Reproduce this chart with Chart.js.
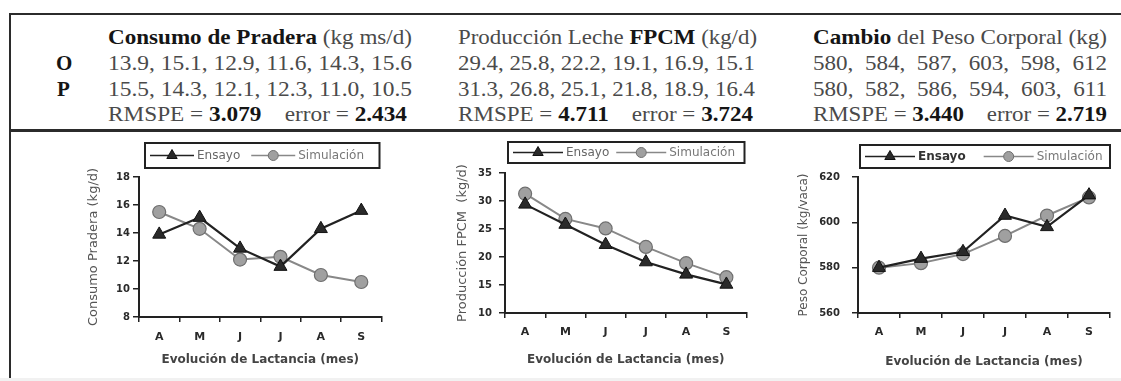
<!DOCTYPE html>
<html><head><meta charset="utf-8">
<script src="https://cdn.jsdelivr.net/npm/chart.js@4.4.0/dist/chart.umd.min.js"></script>
<style>
html,body{margin:0;padding:0;background:#fff;}
body{width:1121px;height:381px;position:relative;overflow:hidden;}
.hl{position:absolute;background:#2b2b2b;}
.t{position:absolute;white-space:pre;font-family:"Liberation Serif","Times New Roman",serif;font-size:21px;line-height:26px;height:26px;color:#4a4a4a;transform-origin:0 50%;}
.t b{color:#151515;}
.c{position:absolute;}
.bot{position:absolute;left:0;top:378px;width:1121px;height:3px;background:#f1f1f1;}
</style></head><body>
<div class="hl" style="left:9px;top:13px;width:1112px;height:2px"></div>
<div class="hl" style="left:9px;top:13px;width:2px;height:365px"></div>
<div class="hl" style="left:9px;top:129px;width:1112px;height:3px"></div>
<div class="bot"></div>
<div id="table"></div>
<div class="c" style="left:60px;top:140px;width:330px;height:237px"><canvas id="c1"></canvas></div>
<div class="c" style="left:420px;top:140px;width:335px;height:237px"><canvas id="c2"></canvas></div>
<div class="c" style="left:780px;top:140px;width:341px;height:237px"><canvas id="c3"></canvas></div>
<script>
// ---- data ----
const months = ['A','M','J','J','A','S'];
const consumoEnsayo = [13.9, 15.1, 12.9, 11.6, 14.3, 15.6];
const consumoSim    = [15.5, 14.3, 12.1, 12.3, 11.0, 10.5];
const lecheEnsayo   = [29.4, 25.8, 22.2, 19.1, 16.9, 15.1];
const lecheSim      = [31.3, 26.8, 25.1, 21.8, 18.9, 16.4];
const pesoEnsayo    = [580, 584, 587, 603, 598, 612];
const pesoSim       = [580, 582, 586, 594, 603, 611];
const rmspe = [3.079, 4.711, 3.440];
const errorVals = [2.434, 3.724, 2.719];
const headers = [
  '<b>Consumo de Pradera</b> (kg ms/d)',
  'Producción Leche <b>FPCM</b> (kg/d)',
  '<b>Cambio</b> del Peso Corporal (kg)'
];
const yTitles = ['Consumo Pradera (kg/d)', 'Producción FPCM  (kg/d)', 'Peso Corporal (kg/vaca)'];
const xTitle = 'Evolución de Lactancia (mes)';

// ---- table layout ----
const colX = [108, 458, 813];
const rowY = [37, 63, 89, 114];
const fitW = [[304, 304, 304, 299], [299, 297, 297, 295], [294, 294, 294, 294]];
const obs = [consumoEnsayo, lecheEnsayo, pesoEnsayo];
const pred = [consumoSim, lecheSim, pesoSim];
const fmt = (arr, c) => c < 2 ? arr.map(v => v.toFixed(1)).join(', ') : arr.join(',  ');
const tbl = document.getElementById('table');
function addText(html, x, y, w) {
  const d = document.createElement('div');
  d.className = 't'; d.innerHTML = html;
  d.style.left = x + 'px'; d.style.top = (y - 13) + 'px';
  if (w) d.dataset.w = w;
  tbl.appendChild(d);
  return d;
}
for (let c = 0; c < 3; c++) {
  addText(headers[c], colX[c], rowY[0], fitW[c][0]);
  addText(fmt(obs[c], c), colX[c], rowY[1], fitW[c][1]);
  addText(fmt(pred[c], c), colX[c], rowY[2], fitW[c][2]);
  addText('RMSPE = <b>' + rmspe[c].toFixed(3) + '</b>    error = <b>' + errorVals[c].toFixed(3) + '</b>', colX[c], rowY[3], fitW[c][3]);
}
addText('<b>O</b>', 56, rowY[1], 0);
addText('<b>P</b>', 57, rowY[2], 0);
document.querySelectorAll('.t').forEach(el => {
  if (!el.dataset.w) return;
  const w = el.getBoundingClientRect().width;
  el.style.transform = 'scaleX(' + (+el.dataset.w / w) + ')';
});

// ---- charts ----
Chart.defaults.font.family = '"DejaVu Sans", "Liberation Sans", sans-serif';
const boxLegend = {
  id: 'boxLegend',
  afterDraw(chart, args, o) {
    const ctx = chart.ctx, ca = chart.chartArea;
    const x0 = ca.left + o.dx, y0 = ca.top - o.dy, w = ca.right - o.inset - x0, h = o.h;
    ctx.save();
    ctx.strokeStyle = '#222'; ctx.lineWidth = 2;
    ctx.strokeRect(x0, y0, w, h);
    const cy = y0 + h / 2;
    let x = x0 + 5;
    chart.data.datasets.forEach((ds, i) => {
      ctx.strokeStyle = ds.borderColor; ctx.lineWidth = 1.5;
      ctx.beginPath(); ctx.moveTo(x, cy); ctx.lineTo(x + o.sample, cy); ctx.stroke();
      ctx.fillStyle = ds.pointBackgroundColor; ctx.strokeStyle = ds.pointBorderColor; ctx.lineWidth = 1;
      Chart.helpers.drawPoint(ctx, {pointStyle: ds.pointStyle, radius: ds.pointRadius - 1.5, borderWidth: 1, rotation: 0}, x + o.sample / 2, cy);
      x += o.sample + 3;
      ctx.font = (o.bold[i] ? 'bold ' : '') + o.fontSize + 'px "DejaVu Sans"';
      ctx.fillStyle = o.color[i]; ctx.textBaseline = 'middle'; ctx.textAlign = 'left';
      ctx.fillText(ds.label, x, cy + 0.5);
      x += ctx.measureText(ds.label).width + o.gap;
    });
    ctx.restore();
  }
};

function makeChart(id, ens, sim, yMin, yMax, yStep, yTitle, L) {
  return new Chart(document.getElementById(id), {
    type: 'line',
    data: {labels: months, datasets: [
      {label: 'Ensayo', data: ens, borderColor: '#222', pointBackgroundColor: '#2a2a2a', pointBorderColor: '#111',
       pointStyle: 'triangle', pointRadius: 7.5, borderWidth: 2.2, pointBorderWidth: 1},
      {label: 'Simulación', data: sim, borderColor: '#888', pointBackgroundColor: '#a0a0a0', pointBorderColor: '#6f6f6f',
       pointStyle: 'circle', pointRadius: 6.5, borderWidth: 2, pointBorderWidth: 1.2}
    ]},
    options: {
      responsive: true, maintainAspectRatio: false, animation: false, events: [],
      layout: {padding: {top: L.padTop, right: L.padRight, left: 0, bottom: 0}},
      plugins: {legend: {display: false}, tooltip: {enabled: false}, boxLegend: L.legend},
      scales: {
        x: {
          type: 'category', offset: true,
          grid: {offset: true, drawOnChartArea: false, tickLength: 5, color: '#222', lineWidth: 1.5},
          border: {color: '#222', width: 2},
          ticks: {padding: L.xPad, color: '#2a2a2a', font: {size: 11, weight: 'bold'}},
          title: {display: true, text: xTitle, color: '#444', font: {size: 12, weight: 'bold'}, padding: {top: 0, bottom: L.xTitlePad}},
          afterFit: s => { s.height = L.xH; }
        },
        y: {
          min: yMin, max: yMax,
          ticks: {stepSize: yStep, padding: L.yPad, color: '#2a2a2a', font: {size: 10, weight: 'bold'}},
          grid: {drawOnChartArea: false, tickLength: 6, color: '#222', lineWidth: 1.5},
          border: {color: '#222', width: 2},
          title: {display: true, text: yTitle, color: '#555', font: {size: L.yTitleSize}, padding: {top: L.yTitlePad, bottom: 0}},
          afterFit: s => { s.width = L.yW; }
        }
      }
    },
    plugins: [boxLegend]
  });
}

makeChart('c1', consumoEnsayo, consumoSim, 8, 18, 2, yTitles[0], {
  padTop: 37, padRight: 8, yW: 79, xH: 60, xPad: 9, xTitlePad: 10, yPad: 3, yTitlePad: 26, yTitleSize: 13,
  legend: {dx: 6, dy: 34, inset: 2, h: 25, sample: 44, gap: 11, fontSize: 12, bold: [false, false], color: ['#666', '#777']}
});
makeChart('c2', lecheEnsayo, lecheSim, 10, 35, 5, yTitles[1], {
  padTop: 33, padRight: 8, yW: 85, xH: 64, xPad: 8, xTitlePad: 10, yPad: 7, yTitlePad: 35, yTitleSize: 13,
  legend: {dx: 3, dy: 31, inset: 2, h: 21, sample: 50, gap: 7, fontSize: 12, bold: [false, false], color: ['#666', '#777']}
});
makeChart('c3', pesoEnsayo, pesoSim, 560, 620, 20, yTitles[2], {
  padTop: 37, padRight: 11, yW: 78, xH: 64, xPad: 8, xTitlePad: 8, yPad: 12, yTitlePad: 17, yTitleSize: 12,
  legend: {dx: 2, dy: 32, inset: 0, h: 23, sample: 50, gap: 18, fontSize: 12, bold: [true, false], color: ['#333', '#777']}
});
</script>
</body></html>
